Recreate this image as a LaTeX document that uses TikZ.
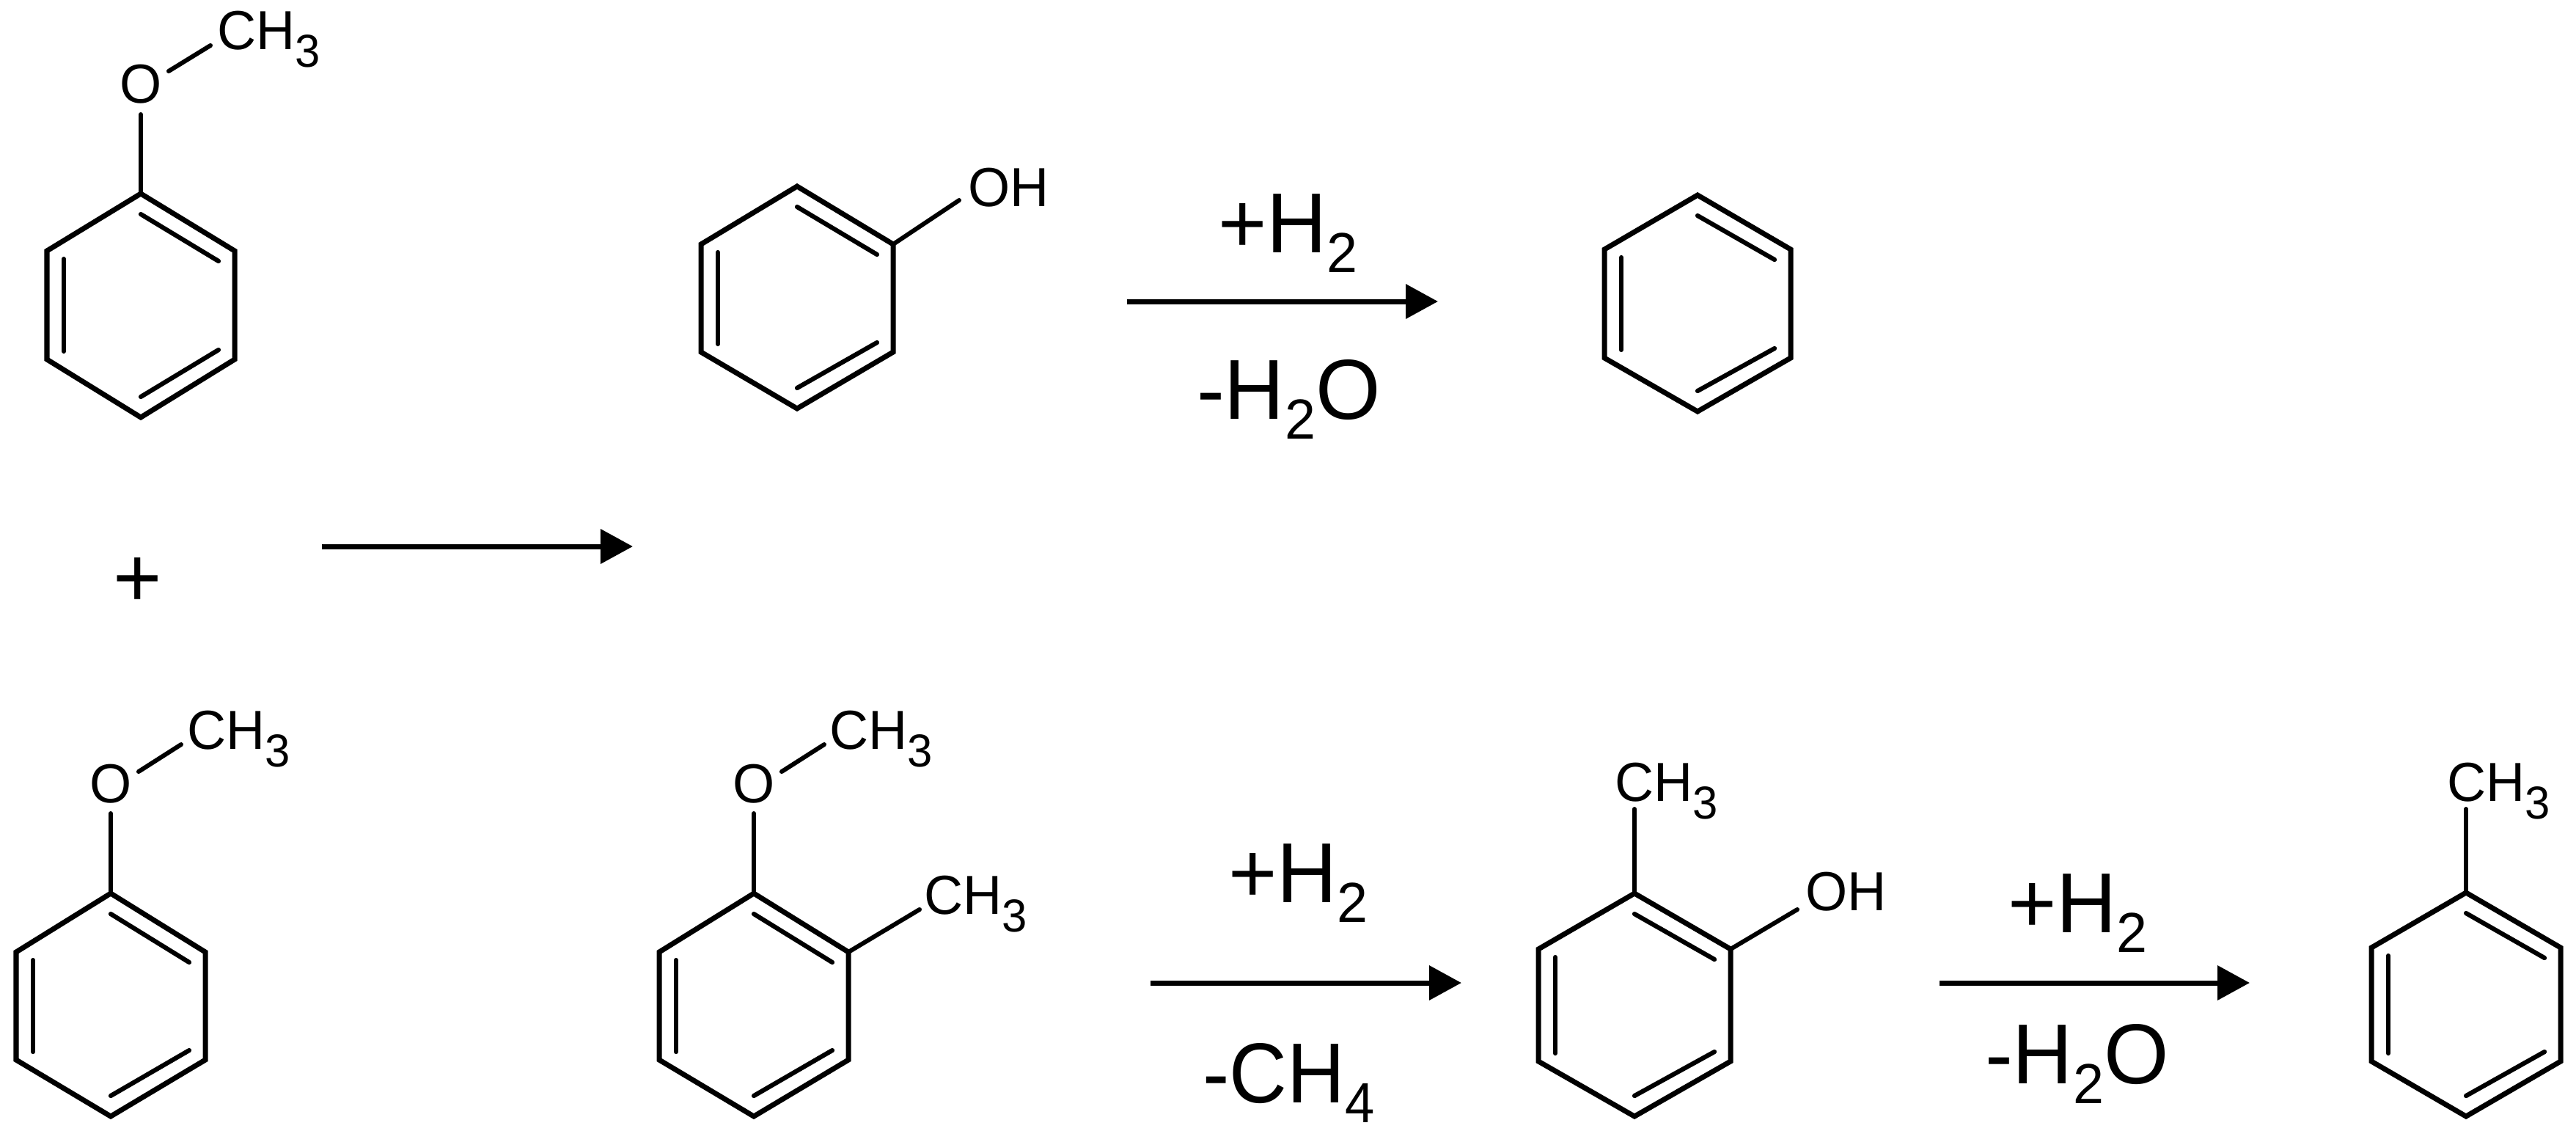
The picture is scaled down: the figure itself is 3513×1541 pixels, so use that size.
\documentclass[tikz,border=0pt]{standalone}
\usepackage{fontspec}
\usetikzlibrary{arrows.meta}
\setmainfont{Liberation Sans}
\newfontfamily\chemfam[FakeStretch=0.98]{Liberation Sans}
\newfontfamily\bigfam[FakeStretch=0.98]{Liberation Sans}
\newcommand{\chemfont}{\chemfam\fontsize{21.34pt}{24pt}\selectfont}
\newcommand{\bigfont}{\bigfam\fontsize{33pt}{36pt}\selectfont}
\newcommand{\chemsub}[1]{\raisebox{-0.24cm}{\fontsize{17.9pt}{18pt}\selectfont #1}}
\newcommand{\bigsub}[1]{\raisebox{-0.27cm}{\fontsize{21.9pt}{22pt}\selectfont #1}}
\tikzset{
  bond/.style={line width=0.07cm,line join=miter},
  innerbond/.style={line width=0.062cm,line cap=round},
  subst/.style={line width=0.06cm,line cap=round},
  rxn/.style={line width=0.07cm,-{Triangle[length=0.44cm,width=0.46cm]}},
  atom/.style={inner sep=0pt,outer sep=0pt,anchor=base,font=\chemfont},
  atomw/.style={inner sep=0pt,outer sep=0pt,anchor=base west,font=\chemfont},
  cond/.style={inner sep=0pt,outer sep=0pt,anchor=base west,font=\bigfont},
}
% name, cx, half width, y top, y upper, y lower, y bottom
\newcommand{\hexring}[7]{%
  \coordinate (#1t) at (#2,#4);
  \coordinate (#1ur) at (#2+#3,#5);
  \coordinate (#1lr) at (#2+#3,#6);
  \coordinate (#1b) at (#2,#7);
  \coordinate (#1ll) at (#2-#3,#6);
  \coordinate (#1ul) at (#2-#3,#5);
  \draw[bond] (#1t) -- (#1ur) -- (#1lr) -- (#1b) -- (#1ll) -- (#1ul) -- cycle;
  \coordinate (#1ia) at (#2-#3+23,#5+11);
  \coordinate (#1ib) at (#2-#3+23,#6-11);
  \coordinate (#1ic) at (#2,#4+28);
  \coordinate (#1id) at (#2+#3-22,#5+14);
  \coordinate (#1ie) at (#2,#7-28);
  \coordinate (#1if) at (#2+#3-22,#6-13);
  \draw[innerbond] (#1ia) -- (#1ib);
  \draw[innerbond] (#1ic) -- (#1id);
  \draw[innerbond] (#1ie) -- (#1if);
}
\begin{document}
\begin{tikzpicture}[x=0.01cm,y=-0.01cm]
\useasboundingbox (0,0) rectangle (3513,1541);
% top anisole
\hexring{A}{192}{128}{264}{342}{490}{569}
\node[atom] (Ao) at (192,140) {O};
\node[atomw] (Ac) at (296,67) {CH\chemsub{3}};
\coordinate (Aoa) at (192,156); \coordinate (Aob) at (230,97); \coordinate (Aca) at (287,62);
\draw[subst] (At) -- (Aoa);
\draw[subst] (Aob) -- (Aca);
% plus and first arrow
\node[inner sep=0pt,anchor=base,font=\bigfont] (plus) at (188,827) {+};
\coordinate (r1a) at (439,745); \coordinate (r1b) at (863,745);
\draw[rxn] (r1a) -- (r1b);
% lower anisole
\hexring{B}{151}{129}{1218}{1298}{1445}{1522}
\node[atom] (Bo) at (151,1094) {O};
\node[atomw] (Bc) at (255,1021) {CH\chemsub{3}};
\coordinate (Boa) at (151,1109); \coordinate (Bob) at (189,1052); \coordinate (Bca) at (247,1015);
\draw[subst] (Bt) -- (Boa);
\draw[subst] (Bob) -- (Bca);
% phenol
\hexring{P}{1087}{131}{254}{333}{480}{557}
\node[atomw] (Poh) at (1320,281) {OH};
\coordinate (Pa) at (1308,273);
\draw[subst] (Pur) -- (Pa);
% top arrow with conditions
\node[cond] (t1) at (1661,344) {+H\bigsub{2}};
\node[cond] (t2) at (1632,571) {-H\bigsub{2}O};
\coordinate (r2a) at (1537,411); \coordinate (r2b) at (1961,411);
\draw[rxn] (r2a) -- (r2b);
% benzene
\hexring{Z}{2315}{127}{266}{340}{488}{561}
% 2-methylanisole
\hexring{C}{1028}{129}{1218}{1298}{1445}{1522}
\node[atom] (Co) at (1028,1094) {O};
\node[atomw] (Cc) at (1131,1021) {CH\chemsub{3}};
\node[atomw] (Cm) at (1260,1246) {CH\chemsub{3}};
\coordinate (Coa) at (1028,1109); \coordinate (Cob) at (1066,1052); \coordinate (Cca) at (1124,1015);
\coordinate (Cma) at (1254,1240);
\draw[subst] (Ct) -- (Coa);
\draw[subst] (Cob) -- (Cca);
\draw[subst] (Cur) -- (Cma);
% third arrow
\node[cond] (t3) at (1675,1230) {+H\bigsub{2}};
\node[cond] (t4) at (1640,1503) {\scalebox{0.96}[1]{-CH\bigsub{4}}};
\coordinate (r3a) at (1569,1340); \coordinate (r3b) at (1993,1340);
\draw[rxn] (r3a) -- (r3b);
% o-cresol
\hexring{D}{2229}{131}{1218}{1294}{1447}{1522}
\node[atomw] (Dc) at (2202,1092) {CH\chemsub{3}};
\node[atomw] (Doh) at (2462,1241) {OH};
\coordinate (Da) at (2229,1103); \coordinate (Db) at (2451,1240);
\draw[subst] (Dt) -- (Da);
\draw[subst] (Dur) -- (Db);
% fourth arrow
\node[cond] (t5) at (2738,1271) {+H\bigsub{2}};
\node[cond] (t6) at (2707,1477) {-H\bigsub{2}O};
\coordinate (r4a) at (2645,1340); \coordinate (r4b) at (3068,1340);
\draw[rxn] (r4a) -- (r4b);
% toluene
\hexring{E}{3363}{129}{1217}{1292}{1447}{1522}
\node[atomw] (Ec) at (3337,1092) {CH\chemsub{3}};
\coordinate (Ea) at (3363,1103);
\draw[subst] (Et) -- (Ea);
\end{tikzpicture}
\end{document}
